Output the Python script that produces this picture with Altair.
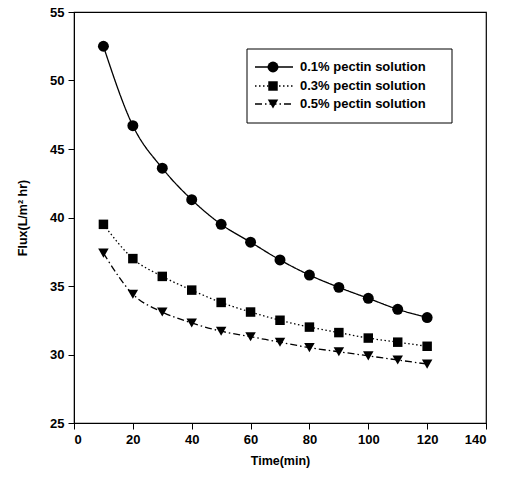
import altair as alt
import pandas as pd

time = [10, 20, 30, 40, 50, 60, 70, 80, 90, 100, 110, 120]
flux_01 = [52.5, 46.7, 43.6, 41.3, 39.5, 38.2, 36.9, 35.8, 34.9, 34.1, 33.3, 32.7]
flux_03 = [39.5, 37.0, 35.7, 34.7, 33.8, 33.1, 32.5, 32.0, 31.6, 31.2, 30.9, 30.6]
flux_05 = [37.4, 34.4, 33.1, 32.3, 31.7, 31.3, 30.9, 30.5, 30.2, 29.9, 29.6, 29.3]
series = ["0.1% pectin solution", "0.3% pectin solution", "0.5% pectin solution"]

FONT = "Liberation Sans"
shapes = ["circle", "square", "triangle-down"]
dashes = [[1, 0], [1.5, 2.5], [7, 3, 1.5, 3]]
sizes = [120, 90, 110]

x_enc = alt.X("t:Q", scale=alt.Scale(domain=[0, 140], nice=False),
              axis=alt.Axis(values=list(range(0, 141, 20)), title="Time(min)"))
y_enc = alt.Y("f:Q", scale=alt.Scale(domain=[25, 55], nice=False),
              axis=alt.Axis(values=list(range(25, 56, 5)), title="Flux(L/m² hr)"))

layers = []
for i, (name, vals) in enumerate(zip(series, [flux_01, flux_03, flux_05])):
    df = pd.DataFrame({"t": time, "f": vals, "s": name})
    base = alt.Chart(df)
    layers.append(base.mark_line(color="black", strokeWidth=1.3, strokeDash=dashes[i],
                                 interpolate="monotone").encode(x=x_enc, y=y_enc))
    layers.append(base.mark_point(filled=True, color="black", opacity=1, shape=shapes[i],
                                  size=sizes[i]).encode(x="t:Q", y="f:Q"))

# legend box
one = pd.DataFrame({"a": [0]})
layers.append(alt.Chart(one).mark_rect(fill="white", stroke="black", strokeWidth=1).encode(
    x=alt.value(173), x2=alt.value(378), y=alt.value(37), y2=alt.value(111)))
rows_y = [55, 74, 92]
for i, name in enumerate(series):
    yy = rows_y[i]
    c = alt.Chart(one)
    layers.append(c.mark_rule(color="black", strokeWidth=1.3, strokeDash=dashes[i]).encode(
        x=alt.value(181), x2=alt.value(219), y=alt.value(yy)))
    layers.append(c.mark_point(filled=True, color="black", opacity=1, shape=shapes[i],
                               size=sizes[i]).encode(x=alt.value(199), y=alt.value(yy)))
    layers.append(c.mark_text(align="left", baseline="middle", font=FONT, fontSize=13,
                              fontWeight="bold", color="black").encode(
        x=alt.value(226), y=alt.value(yy), text=alt.value(name)))

chart = alt.layer(*layers).properties(
    width=412, height=411,
    autosize=alt.AutoSizeParams(type="none"),
    padding={"left": 74, "top": 12, "right": 19, "bottom": 64},
).configure_view(stroke="black", strokeWidth=1.2).configure_axis(
    grid=False, domainColor="black", tickColor="black", tickSize=6,
    labelFont=FONT, labelFontSize=13, labelFontWeight="bold", labelColor="black",
    titleFont=FONT, titleFontSize=12.5, titleFontWeight="bold", titleColor="black",
    labelPadding=4,
).configure_axisY(titlePadding=20).configure_axisX(titlePadding=8)

chart.save("out.html", embed_options={"renderer": "svg", "actions": False})
